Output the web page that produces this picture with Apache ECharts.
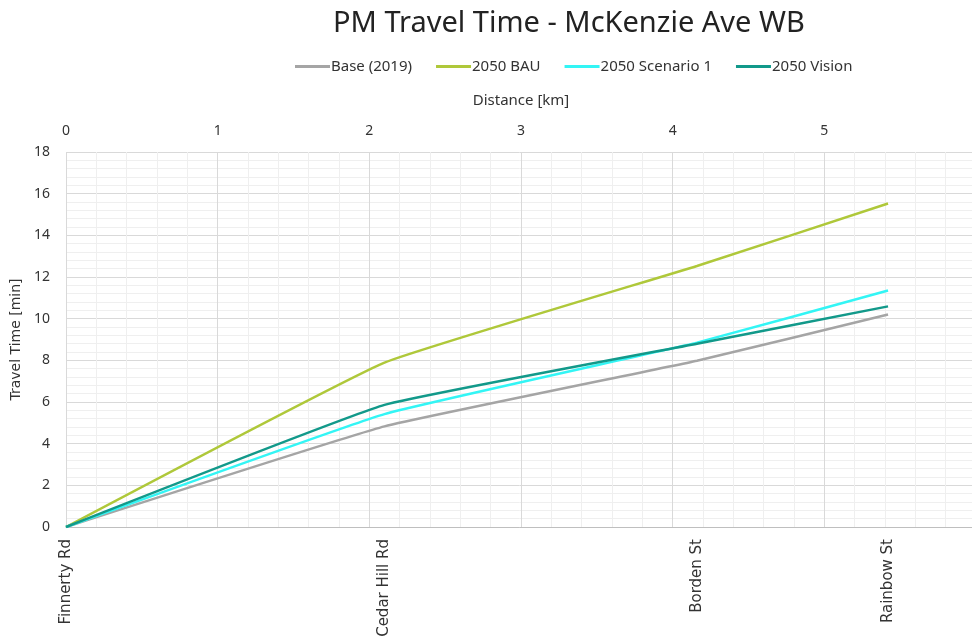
<!DOCTYPE html>
<html>
<head>
<meta charset="utf-8">
<script src="https://cdn.jsdelivr.net/npm/echarts@6/dist/echarts.min.js"></script>
<style>
  html, body { margin: 0; padding: 0; background: #fff; }
  #chart { width: 972px; height: 636px; }
</style>
</head>
<body>
<div id="chart"></div>
<script>
// stops along the corridor and their distance [km]
const stops = ['Finnerty Rd', 'Cedar Hill Rd', 'Borden St', 'Rainbow St']
const distances = [0, 2.1, 4.16, 5.42]

// travel time [min] per scenario
const base2019 = [0, 4.83, 7.98, 10.2]
const bau2050 = [0, 7.89, 12.53, 15.53]
const scenario1 = [0, 5.42, 8.85, 11.35]
const vision2050 = [0, 5.86, 8.8, 10.59]

const seriesNames = ['Base (2019)', '2050 BAU', '2050 Scenario 1', '2050 Vision']
const colors = ['#a5a5a5', '#afc83a', '#33f5f5', '#12998a']

const toPoints = (vals) => vals.map((v, i) => [distances[i], v])

const chart = echarts.init(document.getElementById('chart'))

const labelFont = 'Noto Sans'

chart.setOption({
  animation: false,
  color: colors,
  title: {
    text: 'PM Travel Time - McKenzie Ave WB',
    left: 328,
    top: 4,
    textStyle: {
      fontFamily: labelFont,
      fontSize: 29,
      fontWeight: 'normal',
      color: '#222',
    },
  },
  legend: {
    top: 54,
    left: 290,
    itemWidth: 35,
    itemHeight: 3,
    itemGap: 24,
    icon: 'rect',
    textStyle: {
      fontFamily: labelFont,
      fontSize: 15,
      color: '#333',
      padding: [0, 0, 0, -4],
    },
    data: seriesNames,
  },
  grid: {
    left: 66,
    top: 152,
    right: -4,
    bottom: 109,
    outerBoundsMode: 'none',
  },
  xAxis: [
    {
      type: 'value',
      position: 'top',
      min: 0,
      max: 6,
      interval: 1,
      name: 'Distance [km]',
      nameLocation: 'middle',
      nameGap: 44,
      nameTextStyle: {
        fontFamily: labelFont,
        fontSize: 15,
        color: '#333',
      },
      axisLine: { show: false },
      axisTick: { show: false },
      axisLabel: {
        fontFamily: labelFont,
        fontSize: 14,
        color: '#333',
        margin: 14,
      },
      splitLine: { show: true, lineStyle: { color: '#d9d9d9', width: 1 } },
      minorTick: { show: false, splitNumber: 5 },
      minorSplitLine: { show: true, lineStyle: { color: '#efefef', width: 1 } },
    },
    {
      type: 'value',
      position: 'bottom',
      min: 0,
      max: 6,
      axisLine: { show: true, lineStyle: { color: '#bfbfbf', width: 1 } },
      axisTick: { show: false },
      splitLine: { show: false },
      axisLabel: {
        customValues: distances,
        rotate: 90,
        margin: 12,
        fontFamily: 'DejaVu Sans',
        fontSize: 15,
        color: '#333',
        formatter: (value) => {
          const idx = distances.indexOf(value)
          return idx >= 0 ? stops[idx] : ''
        },
      },
    },
  ],
  yAxis: {
    type: 'value',
    min: 0,
    max: 18,
    interval: 2,
    name: 'Travel Time [min]',
    nameLocation: 'middle',
    nameGap: 38,
    nameTextStyle: {
      fontFamily: 'DejaVu Sans',
      fontSize: 14,
      color: '#333',
    },
    axisLine: { show: false },
    axisTick: { show: false },
    axisLabel: {
      fontFamily: labelFont,
      fontSize: 14,
      color: '#333',
      margin: 16,
    },
    splitLine: { show: true, lineStyle: { color: '#d9d9d9', width: 1 } },
    minorTick: { show: false, splitNumber: 5 },
    minorSplitLine: { show: true, lineStyle: { color: '#efefef', width: 1 } },
  },
  series: [
    { name: seriesNames[0], data: toPoints(base2019) },
    { name: seriesNames[1], data: toPoints(bau2050) },
    { name: seriesNames[2], data: toPoints(scenario1) },
    { name: seriesNames[3], data: toPoints(vision2050) },
  ].map((s) => ({
    ...s,
    type: 'line',
    xAxisIndex: 0,
    smooth: 0.1,
    showSymbol: false,
    symbol: 'none',
    lineStyle: { width: 2.5 },
  })),
})

window.addEventListener('resize', () => chart.resize())
</script>
</body>
</html>
